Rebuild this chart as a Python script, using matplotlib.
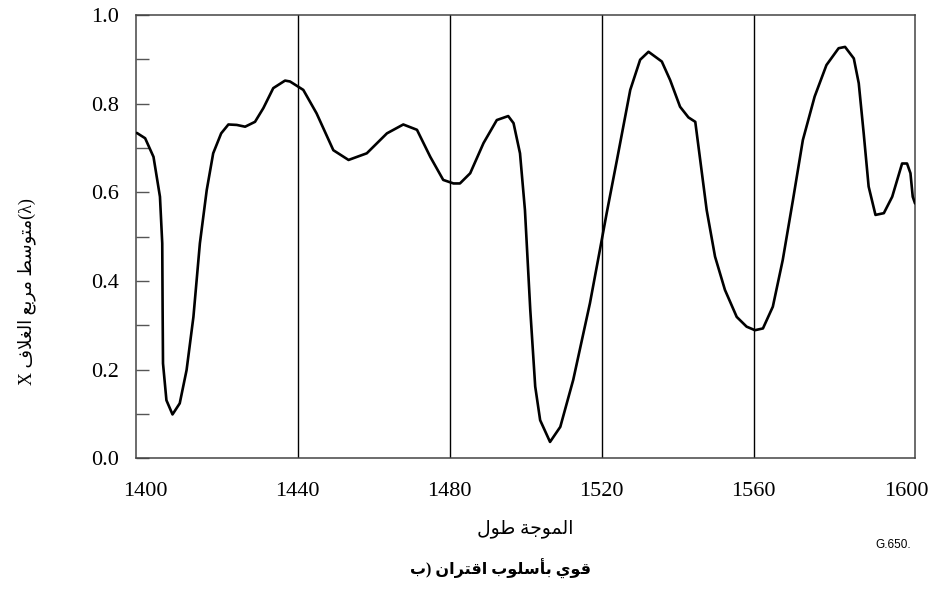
import matplotlib
matplotlib.use("Agg")
import matplotlib.pyplot as plt

# Wavelength (nm) and mean-square envelope values
wavelength = [1397.7, 1399.9, 1402.1, 1403.8, 1404.4, 1404.5, 1404.6, 1405.5, 1407.1,
              1409.0, 1410.8, 1412.6, 1414.3, 1416.1, 1417.8, 1419.9, 1421.8, 1424.0,
              1426.2, 1428.8, 1431.0, 1433.6, 1436.7, 1438.0, 1441.5, 1445.0, 1449.4,
              1453.4, 1458.2, 1463.5, 1467.8, 1471.4, 1474.9, 1478.3, 1481.0, 1482.7,
              1485.4, 1488.9, 1492.4, 1495.4, 1496.8, 1498.5, 1499.8, 1501.2, 1502.5,
              1503.8, 1506.4, 1509.1, 1512.5, 1516.9, 1519.6, 1521.3, 1524.0, 1527.5,
              1530.1, 1532.3, 1535.8, 1538.0, 1540.6, 1542.8, 1544.6, 1545.9, 1547.6,
              1549.8, 1552.4, 1555.5, 1558.1, 1560.3, 1562.4, 1565.0, 1567.6, 1570.3,
              1572.9, 1576.0, 1579.1, 1582.3, 1584.0, 1586.3, 1587.6, 1588.9, 1590.2,
              1592.0, 1594.2, 1596.4, 1599.0, 1600.3, 1601.2, 1601.8, 1602.4]
envelope = [0.734, 0.722, 0.680, 0.590, 0.485, 0.335, 0.214, 0.131, 0.099,
            0.124, 0.199, 0.319, 0.485, 0.605, 0.688, 0.733, 0.753, 0.752,
            0.748, 0.759, 0.790, 0.835, 0.852, 0.850, 0.831, 0.778, 0.695,
            0.673, 0.688, 0.733, 0.753, 0.741, 0.680, 0.628, 0.620, 0.620,
            0.643, 0.711, 0.763, 0.772, 0.756, 0.688, 0.560, 0.335, 0.162,
            0.086, 0.037, 0.071, 0.177, 0.350, 0.474, 0.553, 0.673, 0.831,
            0.899, 0.917, 0.895, 0.853, 0.793, 0.769, 0.759, 0.673, 0.560,
            0.455, 0.380, 0.319, 0.297, 0.289, 0.293, 0.342, 0.447, 0.583,
            0.718, 0.816, 0.887, 0.925, 0.928, 0.902, 0.846, 0.733, 0.613,
            0.549, 0.553, 0.590, 0.665, 0.665, 0.643, 0.590, 0.575]

x_ticks = [1400, 1440, 1480, 1520, 1560, 1600]
y_ticks = [0.0, 0.2, 0.4, 0.6, 0.8, 1.0]
y_minor = [0.1, 0.3, 0.5, 0.7, 0.9]
grid_lines = [1440, 1480, 1520, 1560]

# matplotlib lays text out left to right only: pick the Arabic presentation
# forms by hand and reverse each word so it reads correctly
FORMS = {
    'ا': (0xFE8D, 0xFE8E, None, None), 'أ': (0xFE83, 0xFE84, None, None),
    'ب': (0xFE8F, 0xFE90, 0xFE91, 0xFE92), 'ة': (0xFE93, 0xFE94, None, None),
    'ت': (0xFE95, 0xFE96, 0xFE97, 0xFE98), 'ج': (0xFE9D, 0xFE9E, 0xFE9F, 0xFEA0),
    'ر': (0xFEAD, 0xFEAE, None, None), 'س': (0xFEB1, 0xFEB2, 0xFEB3, 0xFEB4),
    'ط': (0xFEC1, 0xFEC2, 0xFEC3, 0xFEC4), 'ع': (0xFEC9, 0xFECA, 0xFECB, 0xFECC),
    'غ': (0xFECD, 0xFECE, 0xFECF, 0xFED0), 'ف': (0xFED1, 0xFED2, 0xFED3, 0xFED4),
    'ق': (0xFED5, 0xFED6, 0xFED7, 0xFED8), 'ل': (0xFEDD, 0xFEDE, 0xFEDF, 0xFEE0),
    'م': (0xFEE1, 0xFEE2, 0xFEE3, 0xFEE4), 'ن': (0xFEE5, 0xFEE6, 0xFEE7, 0xFEE8),
    'و': (0xFEED, 0xFEEE, None, None), 'ي': (0xFEF1, 0xFEF2, 0xFEF3, 0xFEF4),
}
LAM_ALEF = {'ا': (0xFEFB, 0xFEFC), 'أ': (0xFEF7, 0xFEF8)}


def shape(word):
    units = []
    i = 0
    while i < len(word):
        if word[i] == 'ل' and i + 1 < len(word) and word[i + 1] in LAM_ALEF:
            units.append(('LA', word[i + 1]))
            i += 2
        else:
            units.append(('C', word[i]))
            i += 1

    def dual(u):
        return u[0] == 'C' and u[1] in FORMS and FORMS[u[1]][2] is not None

    def arabic(u):
        return u[0] == 'LA' or u[1] in FORMS

    out = []
    for k, u in enumerate(units):
        prev_j = k > 0 and dual(units[k - 1]) and arabic(u)
        next_j = k + 1 < len(units) and dual(u) and arabic(units[k + 1])
        if u[0] == 'LA':
            iso, fin = LAM_ALEF[u[1]]
            out.append(chr(fin if prev_j else iso))
        elif u[1] in FORMS:
            f = FORMS[u[1]]
            if prev_j and next_j:
                g = f[3]
            elif prev_j:
                g = f[1]
            elif next_j:
                g = f[2]
            else:
                g = f[0]
            out.append(chr(g))
        else:
            out.append(u[1])
    return ''.join(reversed(out))


# words in the order they appear in the picture (left to right / bottom to top)
ylabel_txt = 'X ' + ' '.join([shape('الغلاف'), shape('مربع'), shape('متوسط')]) + '(λ)'
xlabel_txt = shape('طول') + ' ' + shape('الموجة')
title_txt = shape('ب') + ') ' + ' '.join([shape('اقتران'), shape('بأسلوب'), shape('قوي')])

fam = ['Liberation Serif', 'DejaVu Sans']

fig = plt.figure(figsize=(9.38, 5.92), dpi=100)
ax = fig.add_axes([0.145, 0.2258, 0.8305, 0.7489])

for g in grid_lines:
    ax.axvline(g, color='black', lw=1.0, zorder=1)
ax.plot(wavelength, envelope, color='black', lw=1.9,
        solid_joinstyle='round', solid_capstyle='round', zorder=3)

ax.set_xlim(1397.5, 1602.4)
ax.set_ylim(0, 1.0)
ax.set_xticks(x_ticks)
ax.set_xticklabels([str(v) for v in x_ticks], family='Liberation Serif', fontsize=16)
ax.set_yticks(y_ticks)
ax.set_yticklabels([f'{v:.1f}' for v in y_ticks], family='Liberation Serif', fontsize=16)
ax.set_yticks(y_minor, minor=True)
ax.tick_params(axis='x', length=0, pad=17)
ax.tick_params(axis='y', which='both', direction='in', length=9.5, width=1.0,
               color='#555555', pad=12)
for s in ax.spines.values():
    s.set_color('#444444')
    s.set_linewidth(1.1)

fig.text(27 / 938, 1 - 292 / 592, ylabel_txt, rotation=90, ha='center', va='center',
         family=fam, fontsize=13)
fig.text(525 / 938, 1 - 529 / 592, xlabel_txt, ha='center', va='center',
         family=fam, fontsize=13.5)
fig.text(500 / 938, 1 - 569 / 592, title_txt, ha='center', va='center',
         family=fam, fontsize=11.5, fontweight='bold')
fig.text(893 / 938, 1 - 545 / 592, 'G.650.', ha='center', va='center',
         family='Liberation Sans', fontsize=8.5)

fig.savefig('out.png', dpi=100)
